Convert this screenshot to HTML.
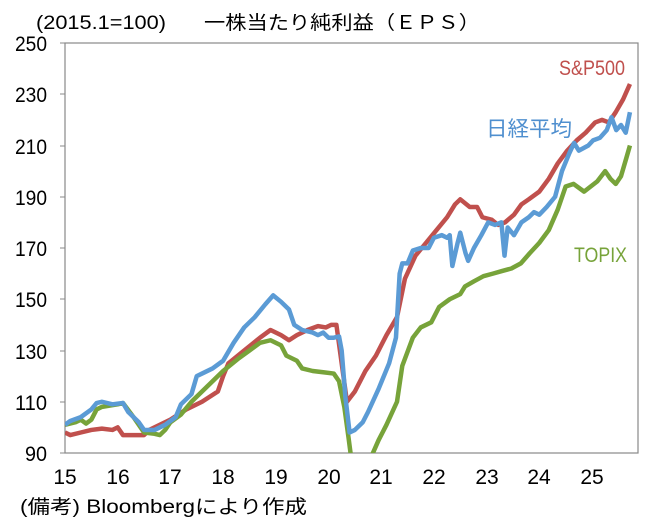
<!DOCTYPE html>
<html><head><meta charset="utf-8"><style>
html,body{margin:0;padding:0;background:#fff;}
svg{display:block;font-family:"Liberation Sans","Noto Sans CJK JP",sans-serif;}
</style></head><body>
<svg width="659" height="524" viewBox="0 0 659 524" xmlns="http://www.w3.org/2000/svg">
<defs><clipPath id="c"><rect x="65" y="43" width="573" height="410"/></clipPath></defs>
<g font-size="21" fill="#000">
<text x="36" y="29" font-size="19" textLength="130" lengthAdjust="spacingAndGlyphs">(2015.1=100)</text>
<text x="204" y="29" font-size="19" textLength="276" lengthAdjust="spacingAndGlyphs">一株当たり純利益（ＥＰＳ）</text>
<g text-anchor="end">
<text x="47" y="51" textLength="32" lengthAdjust="spacingAndGlyphs">250</text><text x="47" y="102" textLength="32" lengthAdjust="spacingAndGlyphs">230</text><text x="47" y="154" textLength="32" lengthAdjust="spacingAndGlyphs">210</text>
<text x="47" y="205" textLength="32" lengthAdjust="spacingAndGlyphs">190</text><text x="47" y="256" textLength="32" lengthAdjust="spacingAndGlyphs">170</text><text x="47" y="307" textLength="32" lengthAdjust="spacingAndGlyphs">150</text>
<text x="47" y="359" textLength="32" lengthAdjust="spacingAndGlyphs">130</text><text x="47" y="410" textLength="32" lengthAdjust="spacingAndGlyphs">110</text><text x="47" y="461" textLength="22" lengthAdjust="spacingAndGlyphs">90</text>
</g>
<g text-anchor="middle">
<text x="65" y="484">15</text><text x="118" y="484">16</text><text x="170" y="484">17</text>
<text x="223" y="484">18</text><text x="276" y="484">19</text><text x="329" y="484">20</text>
<text x="381" y="484">21</text><text x="434" y="484">22</text><text x="487" y="484">23</text>
<text x="539" y="484">24</text><text x="592" y="484">25</text>
</g>
<text x="20" y="513" font-size="19" textLength="287" lengthAdjust="spacingAndGlyphs">(備考) Bloombergにより作成</text>
<text x="559" y="75" fill="#c0504d" textLength="66" lengthAdjust="spacingAndGlyphs">S&amp;P500</text>
<text x="486" y="136" fill="#4f8fcf" textLength="86" lengthAdjust="spacingAndGlyphs">日経平均</text>
<text x="574" y="262" fill="#77a33a" textLength="53" lengthAdjust="spacingAndGlyphs">TOPIX</text>
</g>
<rect x="65" y="43" width="573" height="410" fill="none" stroke="#888" stroke-width="1.2"/>
<g stroke="#888" stroke-width="1">
<line x1="60" y1="43" x2="65" y2="43"/><line x1="60" y1="94" x2="65" y2="94"/><line x1="60" y1="146" x2="65" y2="146"/>
<line x1="60" y1="197" x2="65" y2="197"/><line x1="60" y1="248" x2="65" y2="248"/><line x1="60" y1="299" x2="65" y2="299"/>
<line x1="60" y1="351" x2="65" y2="351"/><line x1="60" y1="402" x2="65" y2="402"/><line x1="60" y1="453" x2="65" y2="453"/>
</g>
<g clip-path="url(#c)">
<g transform="matrix(52.7 0 0 -2.5625 65 683.625)" fill="none" stroke-width="4.5" stroke-linejoin="round">
<polyline vector-effect="non-scaling-stroke" stroke="#c0504d" points="0,98 0.1,97 0.3,98 0.5,99 0.7,99.5 0.9,99 1.0,100 1.1,97 1.3,97 1.5,97 1.6,99 1.8,101 2.0,103 2.3,107 2.6,110 2.9,114 3.0,120 3.1,125 3.4,130 3.7,135 3.9,138 4.1,136 4.25,134 4.4,136 4.6,138 4.8,139.5 4.95,139 5.05,140 5.15,140 5.25,125 5.35,110 5.5,114 5.7,122 5.9,128 6.1,136 6.3,143 6.45,158 6.65,167 6.85,172 7.05,177 7.25,182 7.4,187 7.5,189 7.68,186 7.82,186 7.92,182 8.1,181 8.22,179 8.35,180 8.52,183 8.66,187 8.8,189 9.0,192 9.18,197 9.35,203 9.53,208 9.71,212 9.88,215 10.06,219 10.19,220 10.32,219 10.45,223 10.59,228 10.72,234"/>
<polyline vector-effect="non-scaling-stroke" stroke="#77a33a" points="0,101 0.2,102 0.3,103 0.4,101.5 0.5,103 0.6,107 0.7,108 1.0,109 1.1,109.5 1.3,104 1.5,98 1.7,97.5 1.8,97 1.9,99 2.0,102 2.2,105 2.4,110 2.6,114 2.8,118 3.0,122 3.3,127 3.5,130 3.7,133 3.9,134 4.1,132 4.2,128 4.4,126 4.5,123 4.7,122 4.9,121.5 5.1,121 5.2,118 5.3,108 5.38,96 5.45,85 5.72,85 5.8,88 5.95,95 6.1,101 6.3,110 6.4,124 6.6,135 6.75,139 6.95,141 7.1,147 7.3,150 7.5,152 7.59,155 7.76,157 7.94,159 8.12,160 8.29,161 8.47,162 8.65,164 8.82,168 9.0,172 9.18,177 9.35,185 9.5,194 9.65,195 9.85,192 10.1,196 10.25,200 10.35,197 10.45,195 10.55,198 10.65,205 10.72,210"/>
<polyline vector-effect="non-scaling-stroke" stroke="#5b9bd5" points="0,101 0.1,102.5 0.3,104 0.5,107 0.6,109.5 0.7,110 0.9,109 1.1,109.5 1.2,106 1.4,102 1.5,99 1.7,99 1.9,101 2.1,104 2.2,109 2.4,113 2.5,120 2.6,121 2.8,123 3.0,126 3.2,133 3.4,139 3.6,143 3.8,148 3.95,151.5 4.1,149 4.25,146 4.35,140 4.5,138 4.7,137 4.8,136 4.9,137 5.0,135 5.1,135 5.2,135.5 5.25,130 5.32,112 5.4,98 5.5,99 5.65,102 5.75,106 5.95,115 6.15,125 6.28,135 6.35,160 6.4,164 6.5,164 6.6,169 6.75,170 6.9,170 7.0,174 7.15,175 7.25,174 7.3,175 7.35,163 7.45,172 7.5,176 7.6,168 7.65,165 7.76,170 7.9,175 8.03,180 8.16,179 8.28,180 8.34,167 8.4,178 8.52,175 8.66,180 8.8,182 8.9,184 9.0,183 9.14,186 9.3,190 9.43,200 9.57,207 9.66,211 9.75,208 9.93,210 10.02,212 10.15,213 10.28,216 10.37,221 10.46,216 10.55,218 10.64,215 10.72,223"/>
</g>
</g>
</svg>
</body></html>
